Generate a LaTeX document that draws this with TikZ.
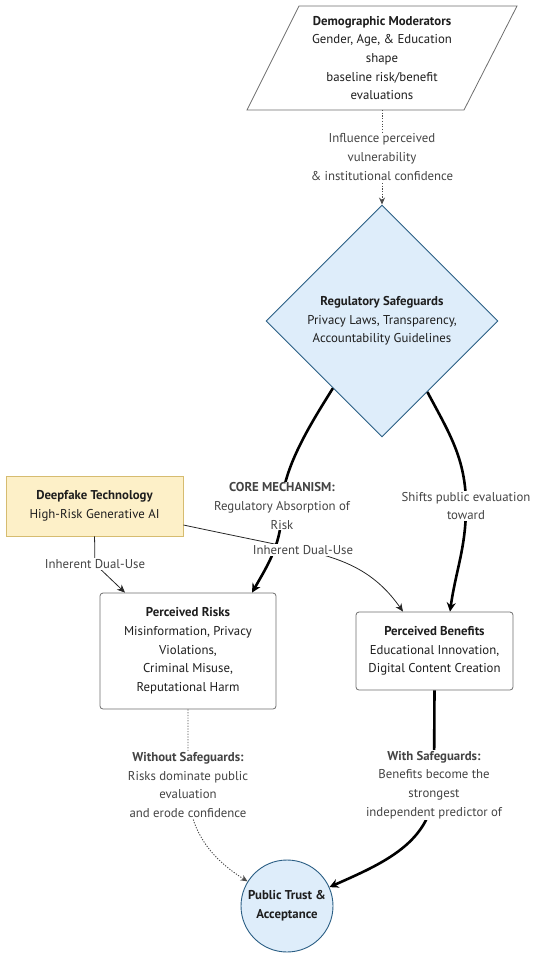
\documentclass[tikz,border=0pt]{standalone}
\usepackage{fontspec}
\setmainfont{PT Sans}
\usetikzlibrary{shapes.geometric,arrows.meta,calc}
\definecolor{nodetext}{HTML}{1E1E1E}
\definecolor{lbltext}{HTML}{444444}
\definecolor{blufill}{HTML}{DEEDFA}
\definecolor{bluedge}{HTML}{2A5E84}
\definecolor{yelfill}{HTML}{FDF0C8}
\definecolor{yeledge}{HTML}{D6BC70}
\definecolor{grayedge}{HTML}{6E6E6E}
\tikzset{
  txt/.style={font=\fontsize{12.8}{18.7}\selectfont, align=center, text=nodetext, inner sep=0pt},
  lbl/.style={font=\fontsize{12.8}{18.7}\selectfont, align=center, text=lbltext, fill=white, inner sep=1pt},
  boxnode/.style={txt, draw=grayedge, fill=white, rounded corners=3pt, line width=0.8pt},
  thin/.style={line width=0.8pt, draw=black!85, -{Stealth[length=8pt,width=7pt]}},
  thickline/.style={line width=2.6pt, draw=black, -{Stealth[length=9pt,width=9pt]}},
  dotline/.style={line width=0.9pt, draw=black!70, dash pattern=on 1.2pt off 1.5pt, -{Stealth[length=7pt,width=6pt]}},
}
\begin{document}
\begin{tikzpicture}[x=1pt,y=1pt]
\useasboundingbox (0,0) rectangle (550,-959);
% parallelogram
\draw[draw=grayedge, fill=white, line width=0.8pt] (299,-6) -- (517,-6) -- (464,-110) -- (247,-110) -- cycle;
\node[txt] (demo) at (382,-58) {\textbf{Demographic Moderators}\\Gender, Age, \& Education\\shape\\baseline risk/benefit\\evaluations};
\coordinate (demob) at (382,-110);
% diamond
\node[diamond, draw=bluedge, fill=blufill, line width=0.9pt, minimum width=232pt, minimum height=232pt, inner sep=0pt, aspect=1] (reg) at (382,-321) {};
\node[txt] (regt) at (382,-321) {\textbf{Regulatory Safeguards}\\Privacy Laws, Transparency,\\Accountability Guidelines};
% deepfake
\node[txt, draw=yeledge, fill=yelfill, line width=0.9pt, minimum width=177pt, minimum height=60pt] (deep) at (94.5,-506) {\textbf{Deepfake Technology}\\High-Risk Generative AI};
% risks
\node[boxnode, minimum width=176pt, minimum height=116pt] (risk) at (188,-651) {\textbf{Perceived Risks}\\Misinformation, Privacy\\Violations,\\Criminal Misuse,\\Reputational Harm};
% benefits
\node[boxnode, minimum width=157pt, minimum height=78pt] (ben) at (434.5,-651) {\textbf{Perceived Benefits}\\Educational Innovation,\\Digital Content Creation};
% trust
\node[circle, draw=bluedge, fill=blufill, line width=0.9pt, minimum size=92pt, inner sep=0pt] (trust) at (287,-906) {};
\node[txt, font=\fontsize{12.8}{18.7}\selectfont\bfseries] (trustt) at (287,-906) {Public Trust \&\\Acceptance};

% label coordinates
\coordinate (l0) at (382,-157);
\coordinate (l1) at (282,-506);
\coordinate (l2) at (466,-506);
\coordinate (l3) at (95,-564);
\coordinate (l4) at (303,-550);
\coordinate (l5) at (188,-785);
\coordinate (l6) at (434,-785);

% edges
\draw[dotline] (demob) -- (l0) -- (reg.north);
\draw[thickline] ($(reg.west)!0.578!(reg.south)$) to[out=-122,in=90,looseness=0.75] (l1) to[out=-90,in=60] ($(risk.north)+(64,0)$);
\draw[thickline] ($(reg.east)!0.61!(reg.south)$) to[out=-62,in=90] (l2) to[out=-90,in=82] ($(ben.north)+(15.5,0)$);
\draw[thin] (deep.south) to[out=-88,in=92] (l3) -- ($(risk.north)+(-63,0)$);
\draw[thin] ($(deep.east)+(0,-19)$) to[out=-12,in=168] (l4) to[out=-12,in=125] ($(ben.north)+(-31.5,0)$);
\draw[dotline] (risk.south) -- (l5) to[out=-90,in=148] (trust.148);
\draw[thickline] (ben.south) -- (l6) to[out=-90,in=24] (trust.24);

% labels
\node[lbl] (t0) at (l0) {Influence perceived\\vulnerability\\\& institutional confidence};
\node[lbl] (t1) at (l1) {\textbf{CORE MECHANISM:}\\Regulatory Absorption of\\Risk};
\node[lbl] (t2) at (l2) {Shifts public evaluation\\toward};
\node[lbl] (t3) at (l3) {Inherent Dual-Use};
\node[lbl] (t4) at (l4) {Inherent Dual-Use};
\node[lbl] (t5) at (l5) {\textbf{Without Safeguards:}\\Risks dominate public\\evaluation\\and erode confidence};
\node[lbl] (t6) at (l6) {\textbf{With Safeguards:}\\Benefits become the\\strongest\\independent predictor of};
\end{tikzpicture}
\end{document}
